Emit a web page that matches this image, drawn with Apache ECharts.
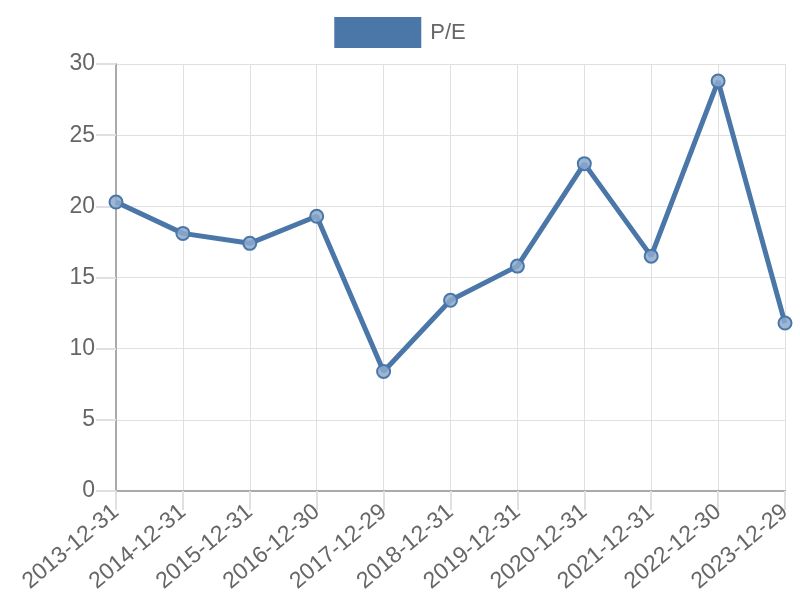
<!DOCTYPE html>
<html><head><meta charset="utf-8">
<script src="https://cdn.jsdelivr.net/npm/echarts@6/dist/echarts.min.js"></script>
<style>html,body{margin:0;padding:0;background:#fff}#c{width:800px;height:600px}</style>
</head><body><div id="c"></div>
<script>
const categories = ['2013-12-31','2014-12-31','2015-12-31','2016-12-30','2017-12-29','2018-12-31','2019-12-31','2020-12-31','2021-12-31','2022-12-30','2023-12-29'];
const peValues = [20.3, 18.1, 17.4, 19.3, 8.4, 13.4, 15.8, 23.0, 16.5, 28.8, 11.8];
const seriesName = 'P/E';
const yTicks = {min: 0, max: 30, interval: 5};

const FONT = 'Liberation Sans, Arial, sans-serif';
const chart = echarts.init(document.getElementById('c'));
chart.setOption({
  animation: false,
  backgroundColor: '#fff',
  legend: {
    top: 12, left: 'center',
    itemWidth: 85, itemHeight: 29,
    icon: 'rect',
    textStyle: {fontFamily: FONT, fontSize: 22, color: '#666', padding: [0,0,0,5]},
    data: [{name: seriesName, itemStyle: {color: '#4a76a8'}}]
  },
  grid: {left: 116, right: 15, top: 64, bottom: 109, containLabel: false},
  xAxis: {
    type: 'category', data: categories, boundaryGap: false,
    axisLine: {lineStyle: {color: '#aaa', width: 2}},
    axisTick: {show: true, length: 19, lineStyle: {color: '#e0e0e0', width: 2}},
    splitLine: {show: true, lineStyle: {color: '#e0e0e0', width: 1}},
    axisLabel: {rotate: 40, margin: 18, fontFamily: FONT, fontSize: 23, color: '#666', interval: 0}
  },
  yAxis: {
    type: 'value', min: yTicks.min, max: yTicks.max, interval: yTicks.interval,
    axisLine: {show: true, lineStyle: {color: '#aaa', width: 2}},
    axisTick: {show: true, length: 20, lineStyle: {color: '#e0e0e0', width: 2}},
    splitLine: {show: true, lineStyle: {color: '#e0e0e0', width: 1}},
    axisLabel: {margin: 21, fontFamily: FONT, fontSize: 23, color: '#666'}
  },
  series: [{
    name: seriesName, type: 'line', data: peValues,
    lineStyle: {color: '#4a76a8', width: 5},
    symbol: 'circle', symbolSize: 13,
    itemStyle: {color: 'rgba(140,170,205,0.85)', borderColor: '#4a76a8', borderWidth: 2},
    color: '#4a76a8'
  }]
});
</script></body></html>
